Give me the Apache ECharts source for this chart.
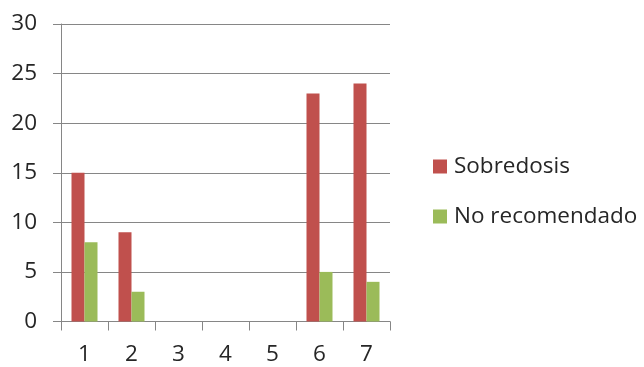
<!DOCTYPE html>
<html>
<head>
<meta charset="utf-8">
<script src="https://cdn.jsdelivr.net/npm/echarts@6/dist/echarts.min.js"></script>
<style>
  html, body { margin: 0; padding: 0; background: #fff; }
  #chart { width: 644px; height: 367px; }
</style>
</head>
<body>
<div id="chart"></div>
<script>
// Category labels and per-series counts
const categories = ['1', '2', '3', '4', '5', '6', '7'];
const sobredosis = [15, 9, 0, 0, 0, 23, 24];
const noRecomendado = [8, 3, 0, 0, 0, 5, 4];
const seriesNames = ['Sobredosis', 'No recomendado'];

const FONT = '"Open Sans", sans-serif';
const TEXT = '#262626';
const LINE = '#868686';
const SIZE = 22.5;

const chart = echarts.init(document.getElementById('chart'), null, { renderer: 'canvas' });
chart.setOption({
  animation: false,
  textStyle: { fontFamily: FONT },
  grid: { left: 61, right: 254, top: 24, bottom: 45.5, containLabel: false },
  legend: {
    orient: 'vertical',
    left: 428,
    top: 150,
    icon: 'rect',
    itemWidth: 14,
    itemHeight: 14,
    itemGap: 27,
    textStyle: { fontFamily: FONT, fontSize: SIZE, lineHeight: 22, color: TEXT, padding: [0, 0, 0, 2] },
    data: seriesNames
  },
  xAxis: {
    type: 'category',
    data: categories,
    boundaryGap: true,
    axisLine: { lineStyle: { color: LINE, width: 1 } },
    axisTick: { show: true, length: 9, lineStyle: { color: LINE } },
    axisLabel: { fontFamily: FONT, fontSize: SIZE, color: TEXT, margin: 22 }
  },
  yAxis: {
    type: 'value',
    min: 0,
    max: 30,
    interval: 5,
    axisLine: { show: true, lineStyle: { color: LINE, width: 1 } },
    axisTick: { show: true, length: 8, lineStyle: { color: LINE } },
    splitLine: { lineStyle: { color: LINE, width: 1 } },
    axisLabel: { fontFamily: FONT, fontSize: SIZE, color: TEXT, margin: 24 }
  },
  series: [
    {
      name: seriesNames[0],
      type: 'bar',
      data: sobredosis,
      barWidth: 13,
      barGap: '0%',
      itemStyle: { color: '#C0504D' }
    },
    {
      name: seriesNames[1],
      type: 'bar',
      data: noRecomendado,
      barWidth: 13,
      barGap: '0%',
      itemStyle: { color: '#9BBB59' }
    }
  ]
});
</script>
</body>
</html>
